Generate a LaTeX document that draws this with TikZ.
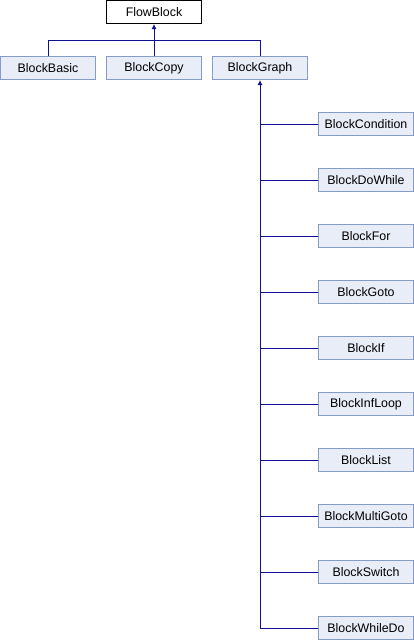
\documentclass[tikz,border=0pt]{standalone}
\usepackage{fontspec}
\setmainfont{Liberation Sans}
\usetikzlibrary{arrows.meta}
\definecolor{boxfill}{RGB}{232,237,247}
\definecolor{boxdraw}{RGB}{132,156,204}
\definecolor{edge}{RGB}{16,16,150}
\tikzset{
  cls/.style={draw=boxdraw, fill=boxfill, line width=1pt, minimum width=95pt, minimum height=23pt, inner sep=0pt, font=\fontsize{12.4}{14}\selectfont},
  rootcls/.style={cls, draw=black, fill=white},
  conn/.style={draw=edge, line width=1pt},
  inh/.style={conn, -{Latex[length=5pt,width=5pt]}}
}
\begin{document}
\begin{tikzpicture}[x=1pt,y=-1pt]
\useasboundingbox (0,0) rectangle (414,640);
\node[rootcls] (fb) at (154,12) {FlowBlock};
\node[cls] (basic) at (48,68) {BlockBasic};
\node[cls] (copy) at (154,68) {BlockCopy};
\node[cls] (graph) at (260,68) {BlockGraph};
\coordinate (j) at (154,40.5);
\draw[conn] (basic.north) |- (j) -| (graph.north);
\draw[inh] (copy.north) -- (fb.south);
\node[cls] (cond) at (366,124) {BlockCondition};
\node[cls] (dowhile) at (366,180) {BlockDoWhile};
\node[cls] (for) at (366,236) {BlockFor};
\node[cls] (goto) at (366,292) {BlockGoto};
\node[cls] (if) at (366,348) {BlockIf};
\node[cls] (inf) at (366,404) {BlockInfLoop};
\node[cls] (list) at (366,460) {BlockList};
\node[cls] (multi) at (366,516) {BlockMultiGoto};
\node[cls] (switch) at (366,572) {BlockSwitch};
\node[cls] (whiledo) at (366,628) {BlockWhileDo};
\draw[inh] (whiledo.west) -| (graph.south);
\foreach \n in {cond,dowhile,for,goto,if,inf,list,multi,switch}
  \draw[conn] (\n.west) -- (\n.west -| graph.south);
\end{tikzpicture}
\end{document}
